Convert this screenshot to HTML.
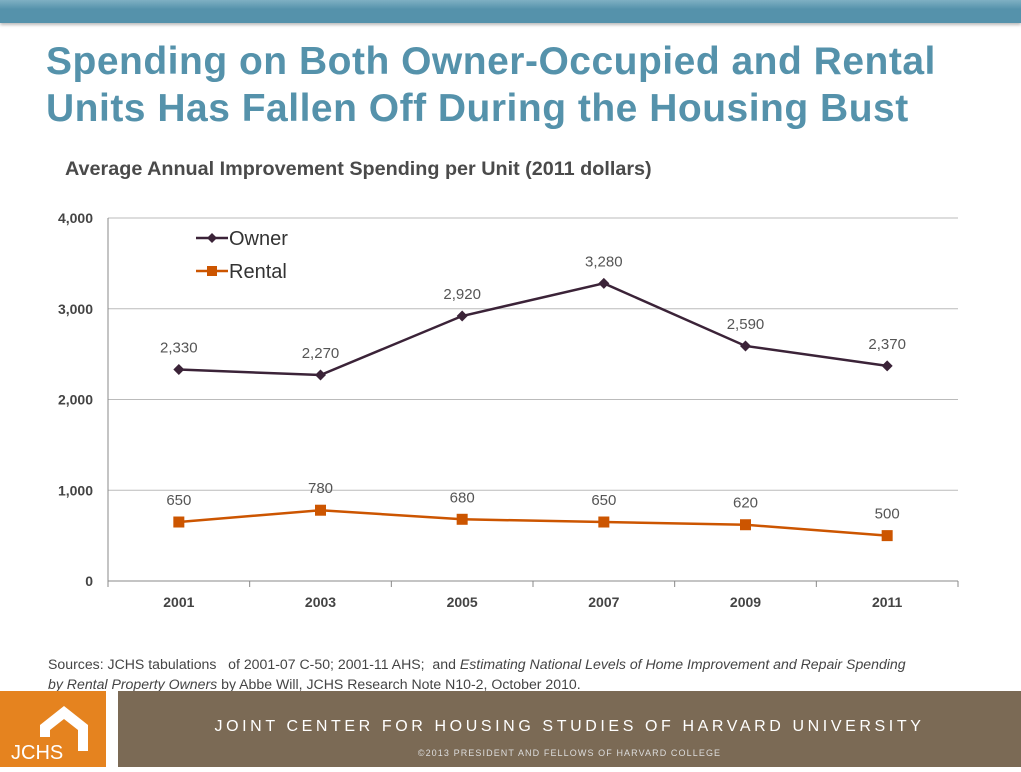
<!DOCTYPE html>
<html><head><meta charset="utf-8"><style>
body{margin:0;width:1021px;height:767px;position:relative;background:#fff;font-family:"Liberation Sans",sans-serif;overflow:hidden}
.abs{position:absolute}
</style></head><body>
<div class="abs" style="left:0;top:0;width:1021px;height:23px;background:linear-gradient(#7fb0c3,#5592ab 40%,#5592ab);box-shadow:0 2px 3px #bbb"></div>
<div class="abs" style="left:46px;top:38px;font-size:39px;font-weight:bold;color:#5592ab;line-height:47px;letter-spacing:0.5px">Spending on Both Owner-Occupied and Rental<br>Units Has Fallen Off During the Housing Bust</div>
<div class="abs" style="left:65px;top:158px;font-size:19.8px;font-weight:bold;color:#4a4a4a">Average Annual Improvement Spending per Unit (2011 dollars)</div>
<svg class="abs" style="left:0;top:0" width="1021" height="690" id="chart"></svg>
<div class="abs" style="left:48px;top:654px;font-size:14.1px;color:#444;line-height:20px">Sources: JCHS tabulations &nbsp; of 2001-07 C-50; 2001-11 AHS; &nbsp;and <i>Estimating National Levels of Home Improvement and Repair Spending</i><br><i>by Rental Property Owners</i> by Abbe Will, JCHS Research Note N10-2, October 2010.</div>
<div class="abs" style="left:0;top:691px;width:106px;height:76px;background:#e5831f">
<svg width="106" height="76"><polygon points="40,34 64,15 88,34 88,60 78,60 78,39 64,28 50,39 50,46 40,46" fill="#fff"/><text x="11" y="68" font-size="20" fill="#fff" font-family="Liberation Sans">JCHS</text></svg></div>
<div class="abs" style="left:118px;top:691px;width:903px;height:76px;background:#7b6a55;color:#fff;text-align:center">
<div style="position:absolute;left:0;width:903px;top:27px;font-size:16px;letter-spacing:3.6px">JOINT CENTER FOR HOUSING STUDIES OF HARVARD UNIVERSITY</div>
<div style="position:absolute;left:0;width:903px;top:57px;font-size:9px;letter-spacing:1.1px;color:#ddd">©2013 PRESIDENT AND FELLOWS OF HARVARD COLLEGE</div>
</div>
<script>
const categories=["2001","2003","2005","2007","2009","2011"];
const ownerValues=[2330,2270,2920,3280,2590,2370];
const rentalValues=[650,780,680,650,620,500];
const yTicks=[0,1000,2000,3000,4000];
const yTickLabels=["0","1,000","2,000","3,000","4,000"];
const NS="http://www.w3.org/2000/svg";
const svg=document.getElementById('chart');
const X0=108,X1=958,Y0=581,Y1=218,YMAX=4000;
const bw=(X1-X0)/categories.length;
function xs(i){return X0+bw*(i+0.5);}
function ys(v){return Y0-(v/YMAX)*(Y0-Y1);}
function el(t,a,p){const e=document.createElementNS(NS,t);for(const k in a)e.setAttribute(k,a[k]);(p||svg).appendChild(e);return e;}
yTicks.forEach((t,i)=>{
 const g=el('line',{x1:X0,x2:X1,y1:ys(t),y2:ys(t),stroke:i==0?'#888':'#bbb','stroke-width':1});
 
 
 const tx=el('text',{x:93,y:ys(t)+5,'text-anchor':'end','font-size':14,'font-weight':'bold',fill:'#444'});
 tx.textContent=yTickLabels[i];
 
 
});
el('line',{x1:X0,x2:X0,y1:Y1,y2:Y0,stroke:'#888'});
categories.forEach((c,i)=>{
 el('line',{x1:X0+bw*(i+1),x2:X0+bw*(i+1),y1:Y0,y2:Y0+6,stroke:'#888'});
 const tx=el('text',{x:xs(i),y:607,'text-anchor':'middle','font-size':14,'font-weight':'bold',fill:'#444'});
 tx.textContent=c;
 
 
});
el('line',{x1:X0,x2:X0,y1:Y0,y2:Y0+6,stroke:'#888'});
function series(vals,color,marker,name){
 const p=el('polyline',{points:vals.map((v,i)=>xs(i)+','+ys(v)).join(' '),fill:'none',stroke:color,'stroke-width':2.5});
 
 
 vals.forEach((v,i)=>{
  let m;
  if(marker=='d')m=el('polygon',{points:`${xs(i)},${ys(v)-5.5} ${xs(i)+5.5},${ys(v)} ${xs(i)},${ys(v)+5.5} ${xs(i)-5.5},${ys(v)}`,fill:color});
  else m=el('rect',{x:xs(i)-5.5,y:ys(v)-5.5,width:11,height:11,fill:color});
  
  
  const t=el('text',{x:xs(i),y:ys(v)-17,'text-anchor':'middle','font-size':15,fill:'#555'});
  t.textContent=v.toLocaleString('en-US');
  
  
 });
}
series(ownerValues,'#3b2338','d','owner');
series(rentalValues,'#cc5500','s','rental');
function legend(y,color,marker,label,name){
 const g=el('g',{});
 
 
 el('line',{x1:196,x2:228,y1:y,y2:y,stroke:color,'stroke-width':2.5},g);
 if(marker=='d')el('polygon',{points:`212,${y-5} 217,${y} 212,${y+5} 207,${y}`,fill:color},g);
 else el('rect',{x:207,y:y-5,width:10,height:10,fill:color},g);
 const t=el('text',{x:229,y:y+7,'font-size':20,fill:'#333'},g);t.textContent=label;
}
legend(238,'#3b2338','d','Owner','owner');
legend(271,'#cc5500','s','Rental','rental');
</script>
</body></html>
